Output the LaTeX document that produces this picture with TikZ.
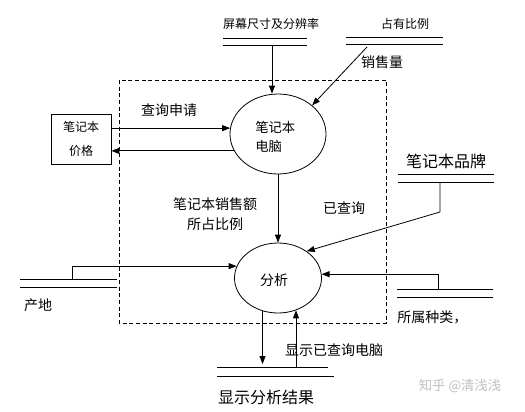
\documentclass[tikz,border=0pt]{standalone}
\usepackage{fontspec}
\setmainfont{Noto Sans CJK SC}
\usetikzlibrary{arrows.meta,shapes.geometric}
\begin{document}
\begin{tikzpicture}[x=0.75pt,y=-0.75pt,
  ln/.style={line width=0.6pt},
  arr/.style={line width=0.6pt,-{Triangle[length=6pt,width=4.5pt]}},
  tx/.style={inner sep=0pt,font=\fontsize{10.5pt}{15pt}\selectfont},
  txs/.style={inner sep=0pt,font=\fontsize{9pt}{18pt}\selectfont},
  txl/.style={inner sep=0pt,font=\fontsize{12pt}{14pt}\selectfont},
  proc/.style={ellipse,draw,line width=0.6pt,inner sep=0pt}]
\useasboundingbox (0,0) rectangle (525,411);
% dashed boundary
\draw[line width=0.6pt,dash pattern=on 3pt off 2pt] (119,80) rectangle (386,323);
% processes
\node[proc,minimum width=72pt,minimum height=60pt] (e1) at (278,134) {};
\node[tx,anchor=west,font=\fontsize{10pt}{12pt}\selectfont] (e1a) at (255,127) {笔记本};
\node[tx,anchor=west,font=\fontsize{10pt}{12pt}\selectfont] (e1b) at (255,146) {电脑};
\node[proc,minimum width=65.25pt,minimum height=52.5pt] (e2) at (278,278) {};
\node[tx] (e2a) at (274,280) {分析};
% external entity
\node[draw,line width=0.6pt,minimum width=45pt,minimum height=37.5pt,inner sep=0pt,align=center,
  font=\fontsize{9pt}{18pt}\selectfont] (box) at (81,139) {笔记本\\价格};
% store: screen size
\coordinate (s1l) at (223,38); \coordinate (s1r) at (307,38);
\coordinate (s1l2) at (223,45); \coordinate (s1r2) at (307,45);
\draw[ln] (s1l) -- (s1r); \draw[ln] (s1l2) -- (s1r2);
\node[txs] (s1t) at (271,24) {屏幕尺寸及分辨率};
\coordinate (s1o) at (272,46);
\draw[arr] (s1o) -- (e1.north -| s1o);
% store: share ratio
\coordinate (s2l) at (346,37); \coordinate (s2r) at (443,37);
\coordinate (s2l2) at (346,44); \coordinate (s2r2) at (443,44);
\draw[ln] (s2l) -- (s2r); \draw[ln] (s2l2) -- (s2r2);
\node[txs] (s2t) at (405,24) {占有比例};
\coordinate (s2o) at (367,47);
\draw[arr] (s2o) -- (e1.40);
\node[tx] (l1) at (382,62) {销售量};
% box <-> e1
\draw[arr] (box.east |- e1.173) -- (e1.173);
\draw[arr] (e1.201) -- (e1.201 -| box.east);
\node[tx] (l2) at (169,110) {查询申请};
% e1 -> e2
\draw[arr] (e1.south) -- (e2.north);
\node[tx,align=center] (l3) at (215,214) {笔记本销售额\\所占比例};
% store: brand
\coordinate (s3l) at (398,174); \coordinate (s3r) at (494,174);
\coordinate (s3l2) at (398,182); \coordinate (s3r2) at (494,182);
\draw[ln] (s3l) -- (s3r); \draw[ln] (s3l2) -- (s3r2);
\node[txl] (s3t) at (446,161) {笔记本品牌};
\coordinate (s3o) at (440,182); \coordinate (s3k) at (440,212);
\draw[arr] (s3o) -- (s3k) -- (e2.43);
\node[tx] (l4) at (344,208) {已查询};
% store: origin
\coordinate (s4l) at (20,279); \coordinate (s4r) at (117,279);
\coordinate (s4l2) at (20,287); \coordinate (s4r2) at (117,287);
\draw[ln] (s4l) -- (s4r); \draw[ln] (s4l2) -- (s4r2);
\node[tx] (s4t) at (38,305) {产地};
\coordinate (s4o) at (72,279);
\draw[arr] (s4o) -- (s4o |- e2.164) -- (e2.164);
% store: category
\coordinate (s5l) at (397,289); \coordinate (s5r) at (493,289);
\coordinate (s5l2) at (397,297); \coordinate (s5r2) at (493,297);
\draw[ln] (s5l) -- (s5r); \draw[ln] (s5l2) -- (s5r2);
\node[tx,anchor=west] (s5t) at (397,317) {所属种类，};
\coordinate (s5o) at (438,289);
\draw[arr] (s5o) -- (s5o |- e2.5) -- (e2.5);
% store: result
\coordinate (s6l) at (217,367); \coordinate (s6r) at (328,367);
\coordinate (s6l2) at (217,376); \coordinate (s6r2) at (334,376);
\draw[ln] (s6l) -- (s6r); \draw[ln] (s6l2) -- (s6r2);
\node[txl] (s6t) at (266,397) {显示分析结果};
\coordinate (s6in) at (263,364); \coordinate (s6out) at (296,367);
\draw[arr] (e2.245) -- (e2.245 |- s6in);
\draw[arr] (s6out) -- (e2.299 -| s6out);
\node[tx] (l5) at (334,350) {显示已查询电脑};
% watermark
\node[tx,text=black!25,font=\fontsize{10pt}{12pt}\selectfont] (wm) at (460,386) {知乎 @清浅浅};
\end{tikzpicture}
\end{document}
